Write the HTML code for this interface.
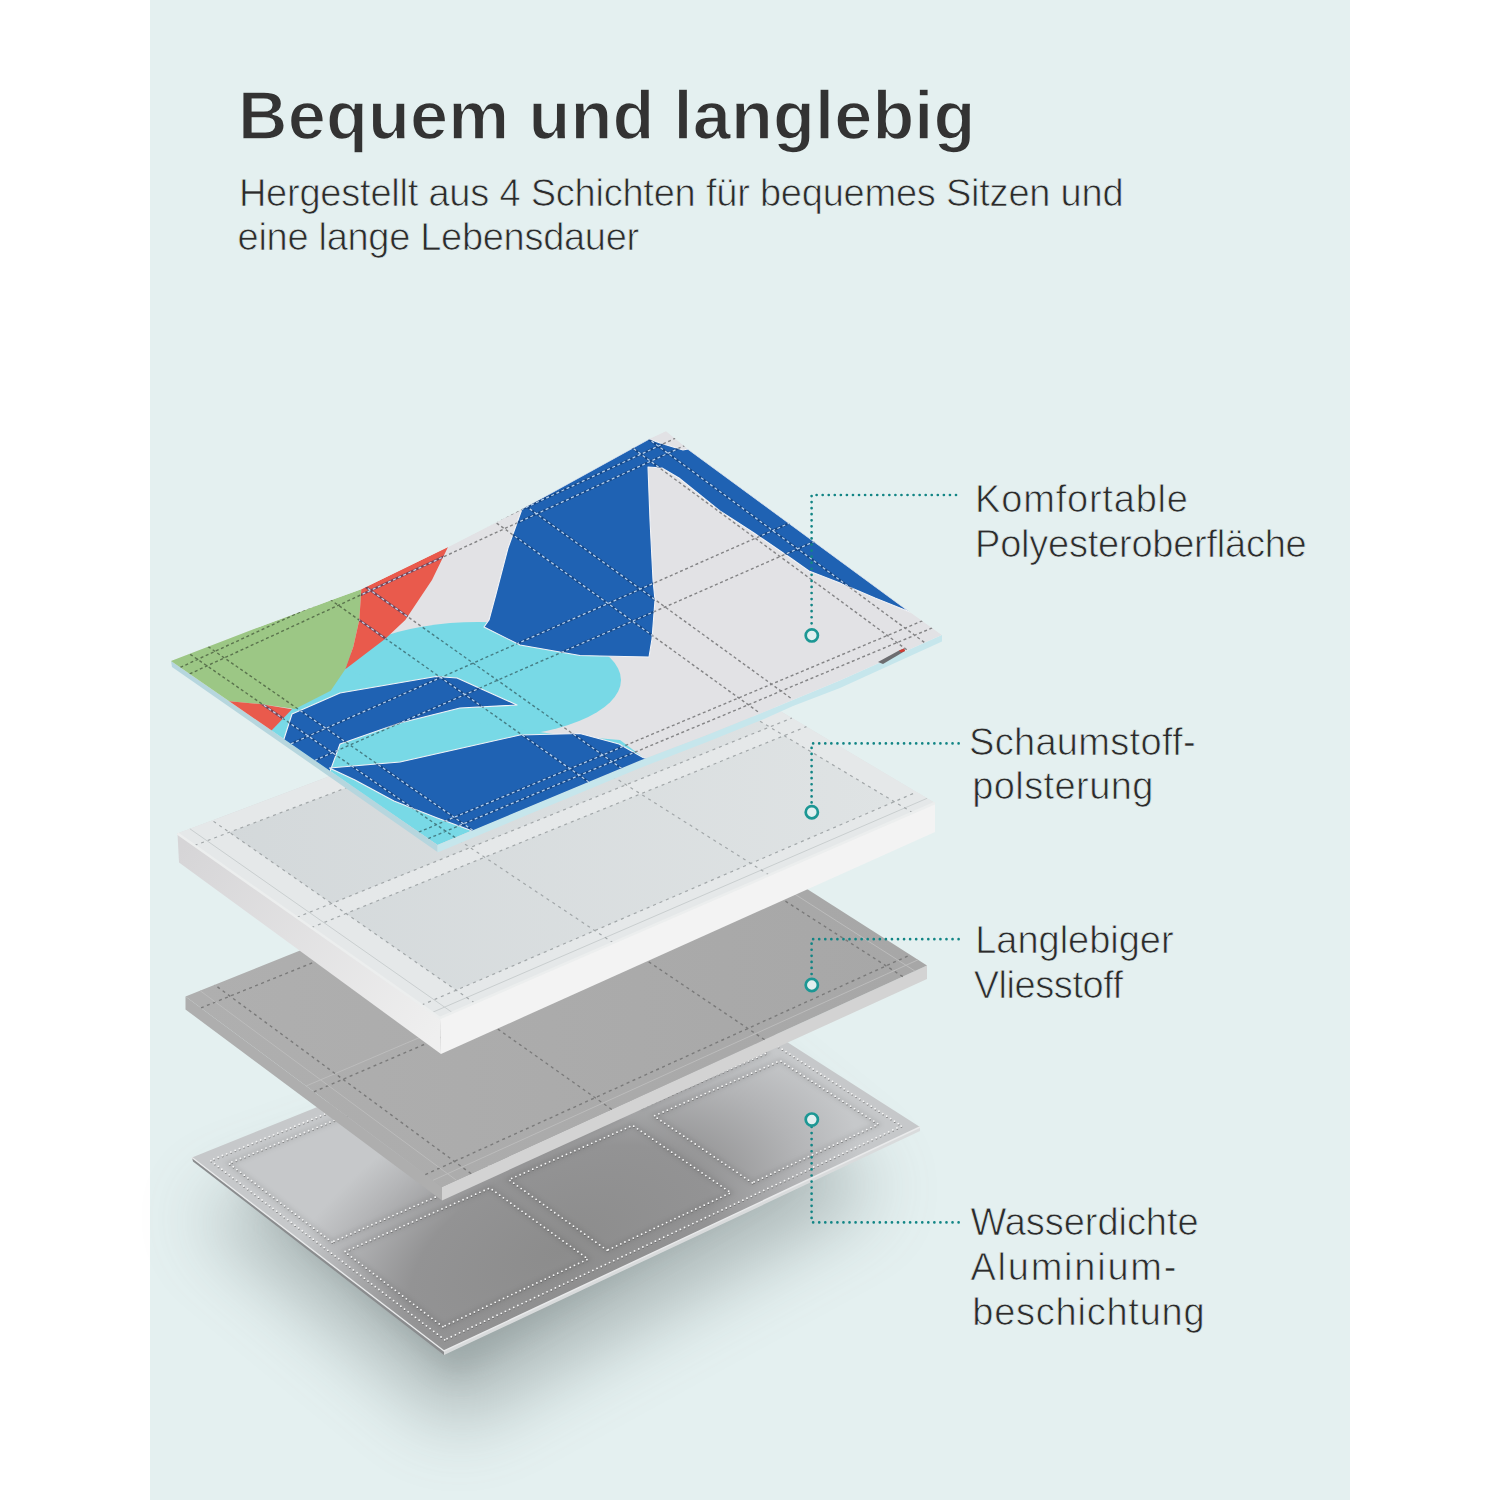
<!DOCTYPE html>
<html><head><meta charset="utf-8">
<style>
html,body{margin:0;padding:0;width:1500px;height:1500px;overflow:hidden;background:#fff;}
.bg{position:absolute;left:150px;top:0;width:1200px;height:1500px;background:#e4f0f0;}
svg{position:absolute;left:0;top:0;}
.t{position:absolute;font-family:"Liberation Sans",sans-serif;white-space:nowrap;}
</style></head><body>
<div class="bg"></div>
<svg width="1500" height="1500" viewBox="0 0 1500 1500">
<defs>
<filter id="shblur" x="-50%" y="-50%" width="200%" height="200%"><feGaussianBlur stdDeviation="38"/></filter>
<filter id="shblur2" x="-50%" y="-50%" width="200%" height="200%"><feGaussianBlur stdDeviation="14"/></filter>
<filter id="soft" x="-20%" y="-20%" width="140%" height="140%"><feGaussianBlur stdDeviation="6"/></filter>
<linearGradient id="alCell" gradientUnits="userSpaceOnUse" x1="260" y1="1110" x2="520" y2="1300"><stop offset="0" stop-color="#c3c5c7"/><stop offset="0.45" stop-color="#9fa0a1"/><stop offset="1" stop-color="#8c8c8c"/></linearGradient>
<linearGradient id="alCell2" gradientUnits="userSpaceOnUse" x1="700" y1="1060" x2="760" y2="1200"><stop offset="0" stop-color="#bdbfc1"/><stop offset="1" stop-color="#939394"/></linearGradient>
<linearGradient id="alTop" gradientUnits="userSpaceOnUse" x1="200" y1="1130" x2="700" y2="1330"><stop offset="0" stop-color="#c8cacc"/><stop offset="1" stop-color="#b4b5b7"/></linearGradient>
<linearGradient id="gTop" gradientUnits="userSpaceOnUse" x1="200" y1="1000" x2="900" y2="1000"><stop offset="0" stop-color="#afafaf"/><stop offset="1" stop-color="#a7a7a7"/></linearGradient>
<linearGradient id="fTop" gradientUnits="userSpaceOnUse" x1="200" y1="900" x2="900" y2="850"><stop offset="0" stop-color="#d3d8da"/><stop offset="1" stop-color="#dfe3e4"/></linearGradient>
<linearGradient id="fLeft" gradientUnits="userSpaceOnUse" x1="180" y1="850" x2="440" y2="1030"><stop offset="0" stop-color="#d6d5d7"/><stop offset="1" stop-color="#efefef"/></linearGradient>
<radialGradient id="alRad" gradientUnits="userSpaceOnUse" cx="560" cy="1250" r="320" gradientTransform="translate(560 1250) rotate(-25) scale(1 0.55) translate(-560 -1250)"><stop offset="0" stop-color="#8c8c8c"/><stop offset="0.5" stop-color="#939394"/><stop offset="0.8" stop-color="#b3b4b6"/><stop offset="1" stop-color="#c6c8ca"/></radialGradient>
<filter id="pill" x="-10%" y="-10%" width="120%" height="120%"><feGaussianBlur stdDeviation="2.5"/></filter>
</defs>
<polygon points="197.0,1212.5 454.0,1426.0 880.0,1192.0 688.0,1036.0" fill="#5d6868" opacity="0.40" filter="url(#shblur)"/>
<polygon points="242.0,1182.5 454.0,1376.0 820.0,1152.0 668.0,1006.0" fill="#5d6868" opacity="0.22" filter="url(#shblur2)"/>
<polygon points="192.0,1157.5 444.0,1351.0 444.0,1355.0 193.0,1161.5" fill="#8a8c8e"/>
<polygon points="444.0,1351.0 920.0,1127.0 920.0,1131.0 444.0,1355.0" fill="#d9dbdc"/>
<polygon points="192.0,1157.5 444.0,1351.0 920.0,1127.0 668.0,966.0" fill="url(#alRad)"/>
<g filter="url(#pill)">
<polygon points="442.9,1326.7 344.6,1251.7 489.8,1188.0 588.1,1259.1" fill="none" stroke="#000" stroke-opacity="0.10" stroke-width="4"/>
<polygon points="607.1,1250.3 508.8,1179.7 632.6,1125.4 730.9,1192.7" fill="none" stroke="#000" stroke-opacity="0.10" stroke-width="4"/>
<polygon points="752.3,1182.8 654.0,1116.0 780.1,1060.7 878.4,1124.1" fill="none" stroke="#000" stroke-opacity="0.10" stroke-width="4"/>
<polygon points="332.0,1242.1 228.7,1163.3 373.9,1104.2 477.2,1178.9" fill="none" stroke="#000" stroke-opacity="0.10" stroke-width="4"/>
<polygon points="496.2,1170.6 392.9,1096.4 516.7,1046.1 620.0,1116.8" fill="none" stroke="#000" stroke-opacity="0.10" stroke-width="4"/>
<polygon points="641.4,1107.5 538.1,1037.3 664.2,986.0 767.5,1052.6" fill="none" stroke="#000" stroke-opacity="0.10" stroke-width="4"/>
</g>
<polygon points="443.2,1327.7 344.9,1252.7 490.1,1189.0 588.4,1260.1" fill="none" stroke="#5a5a5a" stroke-opacity="0.55" stroke-width="1.8" stroke-linecap="round" stroke-dasharray="0 4.6"/>
<polygon points="442.9,1326.7 344.6,1251.7 489.8,1188.0 588.1,1259.1" fill="none" stroke="#f7f7f7" stroke-width="1.8" stroke-linecap="round" stroke-dasharray="0 4.6"/>
<polygon points="607.4,1251.3 509.1,1180.7 632.9,1126.4 731.2,1193.7" fill="none" stroke="#5a5a5a" stroke-opacity="0.55" stroke-width="1.8" stroke-linecap="round" stroke-dasharray="0 4.6"/>
<polygon points="607.1,1250.3 508.8,1179.7 632.6,1125.4 730.9,1192.7" fill="none" stroke="#f7f7f7" stroke-width="1.8" stroke-linecap="round" stroke-dasharray="0 4.6"/>
<polygon points="752.6,1183.8 654.3,1117.0 780.4,1061.7 878.7,1125.1" fill="none" stroke="#5a5a5a" stroke-opacity="0.55" stroke-width="1.8" stroke-linecap="round" stroke-dasharray="0 4.6"/>
<polygon points="752.3,1182.8 654.0,1116.0 780.1,1060.7 878.4,1124.1" fill="none" stroke="#f7f7f7" stroke-width="1.8" stroke-linecap="round" stroke-dasharray="0 4.6"/>
<polygon points="332.3,1243.1 229.0,1164.3 374.2,1105.2 477.5,1179.9" fill="none" stroke="#5a5a5a" stroke-opacity="0.55" stroke-width="1.8" stroke-linecap="round" stroke-dasharray="0 4.6"/>
<polygon points="332.0,1242.1 228.7,1163.3 373.9,1104.2 477.2,1178.9" fill="none" stroke="#f7f7f7" stroke-width="1.8" stroke-linecap="round" stroke-dasharray="0 4.6"/>
<polygon points="496.5,1171.6 393.2,1097.4 517.0,1047.1 620.3,1117.8" fill="none" stroke="#5a5a5a" stroke-opacity="0.55" stroke-width="1.8" stroke-linecap="round" stroke-dasharray="0 4.6"/>
<polygon points="496.2,1170.6 392.9,1096.4 516.7,1046.1 620.0,1116.8" fill="none" stroke="#f7f7f7" stroke-width="1.8" stroke-linecap="round" stroke-dasharray="0 4.6"/>
<polygon points="641.7,1108.5 538.4,1038.3 664.5,987.0 767.8,1053.6" fill="none" stroke="#5a5a5a" stroke-opacity="0.55" stroke-width="1.8" stroke-linecap="round" stroke-dasharray="0 4.6"/>
<polygon points="641.4,1107.5 538.1,1037.3 664.2,986.0 767.5,1052.6" fill="none" stroke="#f7f7f7" stroke-width="1.8" stroke-linecap="round" stroke-dasharray="0 4.6"/>
<polygon points="445.0,1340.8 210.6,1161.4 667.6,976.5 902.0,1126.8" fill="none" stroke="#5a5a5a" stroke-opacity="0.55" stroke-width="1.8" stroke-linecap="round" stroke-dasharray="0 4.6"/>
<polygon points="444.7,1339.8 210.3,1160.4 667.3,975.5 901.7,1125.8" fill="none" stroke="#f7f7f7" stroke-width="1.8" stroke-linecap="round" stroke-dasharray="0 4.6"/>
<polyline points="192.0,1157.5 444.0,1351.0 920.0,1127.0" fill="none" stroke="#e9eaeb" stroke-width="1.4"/>
<polygon points="185.5,996.5 442.0,1187.0 442.0,1200.5 185.5,1009.5" fill="#aeaeae"/>
<polygon points="442.0,1187.0 927.0,965.5 927.0,979.0 442.0,1200.5" fill="#d3d3d3"/>
<polygon points="185.5,996.5 442.0,1187.0 927.0,965.5 670.5,802.0" fill="url(#gTop)"/>
<line x1="425.3" y1="1174.6" x2="910.3" y2="954.9" stroke="#7a7a7a" stroke-width="1.4" stroke-dasharray="3 3.5"/>
<line x1="313.8" y1="1091.8" x2="798.8" y2="883.8" stroke="#7a7a7a" stroke-width="1.4" stroke-dasharray="3 3.5"/>
<line x1="200.9" y1="1007.9" x2="685.9" y2="811.8" stroke="#7a7a7a" stroke-width="1.4" stroke-dasharray="3 3.5"/>
<line x1="433.0" y1="1180.3" x2="918.0" y2="959.8" stroke="#bcbcbc" stroke-width="1"/>
<line x1="306.1" y1="1086.0" x2="791.1" y2="878.8" stroke="#bcbcbc" stroke-width="1"/>
<line x1="471.1" y1="1173.7" x2="214.6" y2="984.8" stroke="#7a7a7a" stroke-width="1.4" stroke-dasharray="3 3.5"/>
<line x1="611.8" y1="1109.5" x2="355.2" y2="928.4" stroke="#7a7a7a" stroke-width="1.4" stroke-dasharray="3 3.5"/>
<line x1="764.5" y1="1039.7" x2="508.0" y2="867.2" stroke="#7a7a7a" stroke-width="1.4" stroke-dasharray="3 3.5"/>
<line x1="902.8" y1="976.6" x2="646.2" y2="811.7" stroke="#7a7a7a" stroke-width="1.4" stroke-dasharray="3 3.5"/>
<line x1="456.6" y1="1180.4" x2="200.1" y2="990.7" stroke="#bcbcbc" stroke-width="1"/>
<line x1="914.9" y1="971.0" x2="658.4" y2="806.9" stroke="#bcbcbc" stroke-width="1"/>
<polygon points="177.5,833.5 440.0,1018.0 441.0,1054.0 179.0,862.5" fill="url(#fLeft)"/>
<polygon points="440.0,1018.0 935.0,803.0 935.0,832.0 441.0,1054.0" fill="#f3f3f3"/>
<polygon points="177.5,833.5 440.0,1018.0 935.0,803.0 672.5,647.0" fill="url(#fTop)"/>
<polygon points="440.0,1018.0 177.5,833.5 212.1,820.4 474.6,1002.9" fill="#e5e8e9"/>
<polygon points="440.0,1018.0 421.6,1005.1 916.6,792.1 935.0,803.0" fill="#e5e8e9"/>
<polygon points="912.7,812.7 650.2,655.4 672.5,647.0 935.0,803.0" fill="#e5e8e9"/>
<polygon points="311.4,927.6 296.9,917.4 791.9,718.0 806.4,726.6" fill="#e5e8e9"/>
<polygon points="194.6,845.5 177.5,833.5 672.5,647.0 689.6,657.1" fill="#e5e8e9"/>
<line x1="421.6" y1="1005.1" x2="916.6" y2="792.1" stroke="#a2a7a9" stroke-width="1.2" stroke-dasharray="3 4"/>
<line x1="311.4" y1="927.6" x2="806.4" y2="726.6" stroke="#a2a7a9" stroke-width="1.2" stroke-dasharray="3 4"/>
<line x1="296.9" y1="917.4" x2="791.9" y2="718.0" stroke="#a2a7a9" stroke-width="1.2" stroke-dasharray="3 4"/>
<line x1="194.6" y1="845.5" x2="689.6" y2="657.1" stroke="#a2a7a9" stroke-width="1.2" stroke-dasharray="3 4"/>
<line x1="432.1" y1="1012.5" x2="927.1" y2="798.3" stroke="#c9cecf" stroke-width="1"/>
<line x1="474.6" y1="1002.9" x2="212.1" y2="820.4" stroke="#a2a7a9" stroke-width="1.2" stroke-dasharray="3 4"/>
<line x1="613.2" y1="942.8" x2="350.8" y2="768.2" stroke="#a2a7a9" stroke-width="1.2" stroke-dasharray="3 4"/>
<line x1="769.2" y1="875.0" x2="506.7" y2="709.5" stroke="#a2a7a9" stroke-width="1.2" stroke-dasharray="3 4"/>
<line x1="912.7" y1="812.7" x2="650.2" y2="655.4" stroke="#a2a7a9" stroke-width="1.2" stroke-dasharray="3 4"/>
<line x1="452.4" y1="1012.6" x2="189.9" y2="828.8" stroke="#c9cecf" stroke-width="1"/>
<polyline points="177.5,833.5 440.0,1018.0 935.0,803.0" fill="none" stroke="#eceeee" stroke-width="2.5"/>
<polygon points="171.0,661.0 437.5,845.0 437.5,852.0 172.0,667.0" fill="#b6d6de"/>
<polygon points="437.5,845.0 640.0,760.5 707.0,735.0 764.0,712.0 793.0,700.0 840.0,680.5 942.0,635.0 942.0,641.5 840.0,688.0 793.0,706.0 764.0,719.0 707.0,742.0 640.0,768.0 437.5,852.5" fill="#c6e6ec"/>
<clipPath id="topclip"><polygon points="171.0,661.0 260.0,626.7 335.0,598.7 361.3,589.3 448.0,547.0 522.0,509.0 649.0,439.0 666.0,431.0 688.0,449.0 910.0,612.0 942.0,635.0 840.0,680.5 793.0,700.0 764.0,712.0 707.0,735.0 640.0,760.5 437.5,845.0"/></clipPath>
<g clip-path="url(#topclip)">
<polygon points="171.0,661.0 260.0,626.7 335.0,598.7 361.3,589.3 448.0,547.0 522.0,509.0 649.0,439.0 666.0,431.0 688.0,449.0 910.0,612.0 942.0,635.0 840.0,680.5 793.0,700.0 764.0,712.0 707.0,735.0 640.0,760.5 437.5,845.0" fill="#e2e2e5"/>
<ellipse cx="478" cy="680" rx="143" ry="58" fill="#78d9e6"/>
<polygon points="270.0,731.0 300.0,700.0 345.0,669.0 400.0,690.0 460.0,720.0 560.0,735.0 620.0,740.0 644.0,758.0 437.5,845.0" fill="#78d9e6"/>
<polygon points="160.0,655.0 260.0,626.7 335.0,598.7 361.3,589.3 359.3,620.0 353.3,646.7 345.3,669.3 330.7,690.7 295.0,709.0 260.0,704.0 227.0,701.0 160.0,665.0" fill="#9cc785"/>
<polygon points="361.3,589.3 448.0,547.0 432.0,580.0 405.3,620.0 385.3,638.7 345.3,669.3 353.3,646.7 359.3,620.0" fill="#e95a4c"/>
<polygon points="227.0,701.0 260.0,704.0 292.0,709.3 271.0,731.0" fill="#e95a4c"/>
<polygon points="522.0,509.0 649.0,439.0 660.0,443.0 683.0,450.0 688.0,449.0 910.0,612.0 875.0,598.0 840.0,583.0 809.0,571.0 792.0,559.0 754.0,533.0 720.0,511.0 679.0,478.0 662.0,468.0 648.0,467.0 650.0,520.0 653.0,580.0 655.0,600.0 652.0,639.0 649.0,657.0 600.0,656.0 580.0,655.5 520.0,645.0 484.0,627.0 489.0,620.0 496.0,594.0 508.0,548.0" fill="#1f62b3" stroke="#f2f3f6" stroke-width="1.1" stroke-linejoin="round"/>
<polygon points="283.0,742.0 292.0,714.0 340.0,693.0 436.0,676.5 457.0,678.0 517.0,705.0 460.0,708.0 400.0,723.0 340.0,744.0 329.5,772.8" fill="#1f62b3" stroke="#f2f3f6" stroke-width="1.1" stroke-linejoin="round"/>
<polygon points="329.5,768.0 400.0,762.0 460.0,748.5 520.0,735.0 580.0,733.5 619.0,744.0 643.0,757.5 650.0,760.0 478.0,833.0 436.0,817.5 394.0,801.0 355.0,780.0" fill="#1f62b3" stroke="#f2f3f6" stroke-width="1.1" stroke-linejoin="round"/>
<clipPath id="darkclip"><polygon points="522.0,509.0 649.0,439.0 660.0,443.0 683.0,450.0 688.0,449.0 910.0,612.0 875.0,598.0 840.0,583.0 809.0,571.0 792.0,559.0 754.0,533.0 720.0,511.0 679.0,478.0 662.0,468.0 648.0,467.0 650.0,520.0 653.0,580.0 655.0,600.0 652.0,639.0 649.0,657.0 600.0,656.0 580.0,655.5 520.0,645.0 484.0,627.0 489.0,620.0 496.0,594.0 508.0,548.0"/><polygon points="283.0,742.0 292.0,714.0 340.0,693.0 436.0,676.5 457.0,678.0 517.0,705.0 460.0,708.0 400.0,723.0 340.0,744.0 329.5,772.8"/><polygon points="329.5,768.0 400.0,762.0 460.0,748.5 520.0,735.0 580.0,733.5 619.0,744.0 643.0,757.5 650.0,760.0 478.0,833.0 436.0,817.5 394.0,801.0 355.0,780.0"/><polygon points="361.3,589.3 448.0,547.0 432.0,580.0 405.3,620.0 385.3,638.7 345.3,669.3 353.3,646.7 359.3,620.0"/><polygon points="227.0,701.0 260.0,704.0 292.0,709.3 271.0,731.0"/></clipPath>
<mask id="lightmask" maskUnits="userSpaceOnUse" x="0" y="0" width="1500" height="1500"><rect x="0" y="0" width="1500" height="1500" fill="#fff"/><polygon points="522.0,509.0 649.0,439.0 660.0,443.0 683.0,450.0 688.0,449.0 910.0,612.0 875.0,598.0 840.0,583.0 809.0,571.0 792.0,559.0 754.0,533.0 720.0,511.0 679.0,478.0 662.0,468.0 648.0,467.0 650.0,520.0 653.0,580.0 655.0,600.0 652.0,639.0 649.0,657.0 600.0,656.0 580.0,655.5 520.0,645.0 484.0,627.0 489.0,620.0 496.0,594.0 508.0,548.0" fill="#000"/><polygon points="283.0,742.0 292.0,714.0 340.0,693.0 436.0,676.5 457.0,678.0 517.0,705.0 460.0,708.0 400.0,723.0 340.0,744.0 329.5,772.8" fill="#000"/><polygon points="329.5,768.0 400.0,762.0 460.0,748.5 520.0,735.0 580.0,733.5 619.0,744.0 643.0,757.5 650.0,760.0 478.0,833.0 436.0,817.5 394.0,801.0 355.0,780.0" fill="#000"/><polygon points="361.3,589.3 448.0,547.0 432.0,580.0 405.3,620.0 385.3,638.7 345.3,669.3 353.3,646.7 359.3,620.0" fill="#000"/><polygon points="227.0,701.0 260.0,704.0 292.0,709.3 271.0,731.0" fill="#000"/></mask>
<path d="M428.2,838.6 L470.2,821.0 L512.2,803.4 L554.2,785.9 L596.2,768.3 L638.2,750.8 L680.3,733.2 L722.3,715.7 L764.3,698.1 L806.3,680.5 L848.3,663.0 L890.3,645.4 L932.3,627.9 M418.8,832.1 L460.8,814.5 L502.8,796.9 L544.8,779.3 L586.8,761.7 L628.8,744.0 L670.8,726.4 L712.7,708.8 L754.7,691.2 L796.7,673.6 L838.7,656.0 L880.7,638.3 L922.7,620.7 M314.9,760.4 L356.6,742.1 L398.3,723.8 L439.9,705.6 L481.6,687.3 L523.3,669.0 L565.0,650.8 L606.7,632.5 L648.3,614.2 L690.0,596.0 L731.7,577.7 L773.4,559.4 L815.0,541.2 M290.9,743.8 L332.5,725.4 L374.1,707.0 L415.7,688.6 L457.4,670.1 L499.0,651.7 L540.6,633.3 L582.2,614.9 L623.8,596.5 L665.4,578.0 L707.0,559.6 L748.6,541.2 L790.2,522.8 M189.7,673.9 L231.0,654.8 L272.3,635.8 L313.6,616.7 L354.9,597.7 L396.2,578.6 L437.5,559.6 L478.8,540.5 L520.1,521.5 L561.4,502.4 L602.7,483.4 L644.0,464.3 L685.3,445.3 M180.3,667.4 L221.6,648.3 L262.9,629.2 L304.2,610.1 L345.4,591.0 L386.7,571.9 L428.0,552.8 L469.3,533.7 L510.5,514.6 L551.8,495.5 L593.1,476.4 L634.4,457.2 L675.7,438.1 M455.2,837.6 L432.9,822.3 L410.7,806.9 L388.4,791.5 L366.2,776.1 L344.0,760.7 L321.7,745.3 L299.5,729.9 L277.3,714.5 L255.0,699.1 L232.8,683.7 L210.6,668.3 L188.3,653.0 M472.8,830.3 L450.6,814.8 L428.3,799.4 L406.0,784.0 L383.8,768.5 L361.5,753.0 L339.2,737.6 L317.0,722.1 L294.7,706.7 L272.4,691.2 L250.2,675.8 L227.9,660.4 L205.7,644.9 M588.8,782.0 L566.4,766.2 L544.0,750.3 L521.5,734.5 L499.1,718.7 L476.6,702.8 L454.2,687.0 L431.7,671.2 L409.3,655.3 L386.8,639.5 L364.4,623.7 L341.9,607.8 L319.5,592.0 M621.6,768.4 L599.1,752.4 L576.6,736.5 L554.2,720.5 L531.7,704.6 L509.2,688.6 L486.7,672.7 L464.2,656.8 L441.7,640.8 L419.2,624.9 L396.7,608.9 L374.2,593.0 L351.7,577.0 M757.9,711.7 L735.1,695.3 L712.4,678.9 L689.7,662.5 L667.0,646.1 L644.3,629.7 L621.6,613.3 L598.9,596.9 L576.2,580.5 L553.5,564.1 L530.7,547.7 L508.0,531.3 L485.3,515.0 M790.6,698.0 L767.9,681.5 L745.1,665.0 L722.4,648.5 L699.6,632.0 L676.8,615.5 L654.1,599.0 L631.3,582.5 L608.5,566.0 L585.8,549.5 L563.0,533.0 L540.3,516.5 L517.5,500.0 M906.7,649.7 L883.7,632.8 L860.8,615.9 L837.9,599.0 L814.9,582.2 L792.0,565.3 L769.0,548.4 L746.1,531.5 L723.1,514.6 L700.2,497.8 L677.2,480.9 L654.3,464.0 L631.4,447.1 M924.3,642.4 L901.4,625.4 L878.4,608.5 L855.4,591.5 L832.5,574.6 L809.5,557.6 L786.5,540.7 L763.5,523.8 L740.6,506.8 L717.6,489.9 L694.6,472.9 L671.6,456.0 L648.7,439.0" fill="none" stroke="#000" stroke-opacity="0.42" stroke-width="1.4" stroke-dasharray="3 2.6" mask="url(#lightmask)"/>
<g clip-path="url(#darkclip)"><path d="M428.2,838.6 L470.2,821.0 L512.2,803.4 L554.2,785.9 L596.2,768.3 L638.2,750.8 L680.3,733.2 L722.3,715.7 L764.3,698.1 L806.3,680.5 L848.3,663.0 L890.3,645.4 L932.3,627.9 M418.8,832.1 L460.8,814.5 L502.8,796.9 L544.8,779.3 L586.8,761.7 L628.8,744.0 L670.8,726.4 L712.7,708.8 L754.7,691.2 L796.7,673.6 L838.7,656.0 L880.7,638.3 L922.7,620.7 M314.9,760.4 L356.6,742.1 L398.3,723.8 L439.9,705.6 L481.6,687.3 L523.3,669.0 L565.0,650.8 L606.7,632.5 L648.3,614.2 L690.0,596.0 L731.7,577.7 L773.4,559.4 L815.0,541.2 M290.9,743.8 L332.5,725.4 L374.1,707.0 L415.7,688.6 L457.4,670.1 L499.0,651.7 L540.6,633.3 L582.2,614.9 L623.8,596.5 L665.4,578.0 L707.0,559.6 L748.6,541.2 L790.2,522.8 M189.7,673.9 L231.0,654.8 L272.3,635.8 L313.6,616.7 L354.9,597.7 L396.2,578.6 L437.5,559.6 L478.8,540.5 L520.1,521.5 L561.4,502.4 L602.7,483.4 L644.0,464.3 L685.3,445.3 M180.3,667.4 L221.6,648.3 L262.9,629.2 L304.2,610.1 L345.4,591.0 L386.7,571.9 L428.0,552.8 L469.3,533.7 L510.5,514.6 L551.8,495.5 L593.1,476.4 L634.4,457.2 L675.7,438.1 M455.2,837.6 L432.9,822.3 L410.7,806.9 L388.4,791.5 L366.2,776.1 L344.0,760.7 L321.7,745.3 L299.5,729.9 L277.3,714.5 L255.0,699.1 L232.8,683.7 L210.6,668.3 L188.3,653.0 M472.8,830.3 L450.6,814.8 L428.3,799.4 L406.0,784.0 L383.8,768.5 L361.5,753.0 L339.2,737.6 L317.0,722.1 L294.7,706.7 L272.4,691.2 L250.2,675.8 L227.9,660.4 L205.7,644.9 M588.8,782.0 L566.4,766.2 L544.0,750.3 L521.5,734.5 L499.1,718.7 L476.6,702.8 L454.2,687.0 L431.7,671.2 L409.3,655.3 L386.8,639.5 L364.4,623.7 L341.9,607.8 L319.5,592.0 M621.6,768.4 L599.1,752.4 L576.6,736.5 L554.2,720.5 L531.7,704.6 L509.2,688.6 L486.7,672.7 L464.2,656.8 L441.7,640.8 L419.2,624.9 L396.7,608.9 L374.2,593.0 L351.7,577.0 M757.9,711.7 L735.1,695.3 L712.4,678.9 L689.7,662.5 L667.0,646.1 L644.3,629.7 L621.6,613.3 L598.9,596.9 L576.2,580.5 L553.5,564.1 L530.7,547.7 L508.0,531.3 L485.3,515.0 M790.6,698.0 L767.9,681.5 L745.1,665.0 L722.4,648.5 L699.6,632.0 L676.8,615.5 L654.1,599.0 L631.3,582.5 L608.5,566.0 L585.8,549.5 L563.0,533.0 L540.3,516.5 L517.5,500.0 M906.7,649.7 L883.7,632.8 L860.8,615.9 L837.9,599.0 L814.9,582.2 L792.0,565.3 L769.0,548.4 L746.1,531.5 L723.1,514.6 L700.2,497.8 L677.2,480.9 L654.3,464.0 L631.4,447.1 M924.3,642.4 L901.4,625.4 L878.4,608.5 L855.4,591.5 L832.5,574.6 L809.5,557.6 L786.5,540.7 L763.5,523.8 L740.6,506.8 L717.6,489.9 L694.6,472.9 L671.6,456.0 L648.7,439.0" fill="none" stroke="#0b2e5e" stroke-opacity="0.5" stroke-width="2.2"/><path d="M428.2,838.6 L470.2,821.0 L512.2,803.4 L554.2,785.9 L596.2,768.3 L638.2,750.8 L680.3,733.2 L722.3,715.7 L764.3,698.1 L806.3,680.5 L848.3,663.0 L890.3,645.4 L932.3,627.9 M418.8,832.1 L460.8,814.5 L502.8,796.9 L544.8,779.3 L586.8,761.7 L628.8,744.0 L670.8,726.4 L712.7,708.8 L754.7,691.2 L796.7,673.6 L838.7,656.0 L880.7,638.3 L922.7,620.7 M314.9,760.4 L356.6,742.1 L398.3,723.8 L439.9,705.6 L481.6,687.3 L523.3,669.0 L565.0,650.8 L606.7,632.5 L648.3,614.2 L690.0,596.0 L731.7,577.7 L773.4,559.4 L815.0,541.2 M290.9,743.8 L332.5,725.4 L374.1,707.0 L415.7,688.6 L457.4,670.1 L499.0,651.7 L540.6,633.3 L582.2,614.9 L623.8,596.5 L665.4,578.0 L707.0,559.6 L748.6,541.2 L790.2,522.8 M189.7,673.9 L231.0,654.8 L272.3,635.8 L313.6,616.7 L354.9,597.7 L396.2,578.6 L437.5,559.6 L478.8,540.5 L520.1,521.5 L561.4,502.4 L602.7,483.4 L644.0,464.3 L685.3,445.3 M180.3,667.4 L221.6,648.3 L262.9,629.2 L304.2,610.1 L345.4,591.0 L386.7,571.9 L428.0,552.8 L469.3,533.7 L510.5,514.6 L551.8,495.5 L593.1,476.4 L634.4,457.2 L675.7,438.1 M455.2,837.6 L432.9,822.3 L410.7,806.9 L388.4,791.5 L366.2,776.1 L344.0,760.7 L321.7,745.3 L299.5,729.9 L277.3,714.5 L255.0,699.1 L232.8,683.7 L210.6,668.3 L188.3,653.0 M472.8,830.3 L450.6,814.8 L428.3,799.4 L406.0,784.0 L383.8,768.5 L361.5,753.0 L339.2,737.6 L317.0,722.1 L294.7,706.7 L272.4,691.2 L250.2,675.8 L227.9,660.4 L205.7,644.9 M588.8,782.0 L566.4,766.2 L544.0,750.3 L521.5,734.5 L499.1,718.7 L476.6,702.8 L454.2,687.0 L431.7,671.2 L409.3,655.3 L386.8,639.5 L364.4,623.7 L341.9,607.8 L319.5,592.0 M621.6,768.4 L599.1,752.4 L576.6,736.5 L554.2,720.5 L531.7,704.6 L509.2,688.6 L486.7,672.7 L464.2,656.8 L441.7,640.8 L419.2,624.9 L396.7,608.9 L374.2,593.0 L351.7,577.0 M757.9,711.7 L735.1,695.3 L712.4,678.9 L689.7,662.5 L667.0,646.1 L644.3,629.7 L621.6,613.3 L598.9,596.9 L576.2,580.5 L553.5,564.1 L530.7,547.7 L508.0,531.3 L485.3,515.0 M790.6,698.0 L767.9,681.5 L745.1,665.0 L722.4,648.5 L699.6,632.0 L676.8,615.5 L654.1,599.0 L631.3,582.5 L608.5,566.0 L585.8,549.5 L563.0,533.0 L540.3,516.5 L517.5,500.0 M906.7,649.7 L883.7,632.8 L860.8,615.9 L837.9,599.0 L814.9,582.2 L792.0,565.3 L769.0,548.4 L746.1,531.5 L723.1,514.6 L700.2,497.8 L677.2,480.9 L654.3,464.0 L631.4,447.1 M924.3,642.4 L901.4,625.4 L878.4,608.5 L855.4,591.5 L832.5,574.6 L809.5,557.6 L786.5,540.7 L763.5,523.8 L740.6,506.8 L717.6,489.9 L694.6,472.9 L671.6,456.0 L648.7,439.0" fill="none" stroke="#cfe6ff" stroke-opacity="0.85" stroke-width="1.3" stroke-dasharray="3 2.6"/></g>
</g>
<polygon points="878.0,662.0 899.0,650.5 904.0,648.5 905.0,651.0 883.0,664.0" fill="#6d6d70"/>
<polygon points="899.0,650.5 904.0,648.5 905.0,651.0 901.0,652.5" fill="#d23a32"/>
</svg>
<div class="t" style="left:238.1px;top:81.71px;font-weight:700;font-size:68.5px;line-height:68.5px;letter-spacing:0.147px;color:#333333;-webkit-text-stroke:1.6px #e4f0f0;paint-order:fill stroke">Bequem und langlebig</div>
<div class="t" style="left:238.9px;top:173.53px;font-weight:400;font-size:38px;line-height:38px;letter-spacing:-0.22px;color:#2b2b2b;-webkit-text-stroke:0.75px #e4f0f0;paint-order:fill stroke">Hergestellt aus 4 Schichten für bequemes Sitzen und</div>
<div class="t" style="left:237.6px;top:218.13px;font-weight:400;font-size:38px;line-height:38px;letter-spacing:-0.297px;color:#2b2b2b;-webkit-text-stroke:0.75px #e4f0f0;paint-order:fill stroke">eine lange Lebensdauer</div>
<div class="t" style="left:975.1px;top:479.83px;font-weight:400;font-size:38px;line-height:38px;letter-spacing:0.8px;color:#2b2b2b;-webkit-text-stroke:0.75px #e4f0f0;paint-order:fill stroke">Komfortable</div>
<div class="t" style="left:975.1px;top:524.83px;font-weight:400;font-size:38px;line-height:38px;letter-spacing:-0.234px;color:#2b2b2b;-webkit-text-stroke:0.75px #e4f0f0;paint-order:fill stroke">Polyesteroberfläche</div>
<div class="t" style="left:969.0px;top:722.53px;font-weight:400;font-size:38px;line-height:38px;letter-spacing:0.31px;color:#2b2b2b;-webkit-text-stroke:0.75px #e4f0f0;paint-order:fill stroke">Schaumstoff-</div>
<div class="t" style="left:972.3px;top:767.43px;font-weight:400;font-size:38px;line-height:38px;letter-spacing:0.402px;color:#2b2b2b;-webkit-text-stroke:0.75px #e4f0f0;paint-order:fill stroke">polsterung</div>
<div class="t" style="left:975.2px;top:920.73px;font-weight:400;font-size:38px;line-height:38px;letter-spacing:-0.02px;color:#2b2b2b;-webkit-text-stroke:0.75px #e4f0f0;paint-order:fill stroke">Langlebiger</div>
<div class="t" style="left:973.7px;top:965.83px;font-weight:400;font-size:38px;line-height:38px;letter-spacing:-0.445px;color:#2b2b2b;-webkit-text-stroke:0.75px #e4f0f0;paint-order:fill stroke">Vliesstoff</div>
<div class="t" style="left:970.4px;top:1203.03px;font-weight:400;font-size:38px;line-height:38px;letter-spacing:-0.057px;color:#2b2b2b;-webkit-text-stroke:0.75px #e4f0f0;paint-order:fill stroke">Wasserdichte</div>
<div class="t" style="left:970.4px;top:1247.93px;font-weight:400;font-size:38px;line-height:38px;letter-spacing:1.778px;color:#2b2b2b;-webkit-text-stroke:0.75px #e4f0f0;paint-order:fill stroke">Aluminium-</div>
<div class="t" style="left:972.3px;top:1292.83px;font-weight:400;font-size:38px;line-height:38px;letter-spacing:0.762px;color:#2b2b2b;-webkit-text-stroke:0.75px #e4f0f0;paint-order:fill stroke">beschichtung</div>

<svg width="1500" height="1500" viewBox="0 0 1500 1500">
<g fill="none" stroke="#128585" stroke-width="2.7" stroke-linecap="round" stroke-dasharray="0 6.06">
<path d="M956 495 H811.6 V628"/>
<path d="M958.6 743.4 H811.6 V805"/>
<path d="M958.6 939.2 H811.6 V978"/>
<path d="M811.6 1127 V1222.4 H958.6"/>
</g>
<g fill="#e2f0f0" stroke="#1c9794" stroke-width="2.7">
<circle cx="811.8" cy="635.4" r="6.1"/>
<circle cx="811.8" cy="812.2" r="6.1"/>
<circle cx="811.8" cy="985" r="6.1"/>
<circle cx="811.8" cy="1119.6" r="6.1"/>
</g>
</svg>
</body></html>
